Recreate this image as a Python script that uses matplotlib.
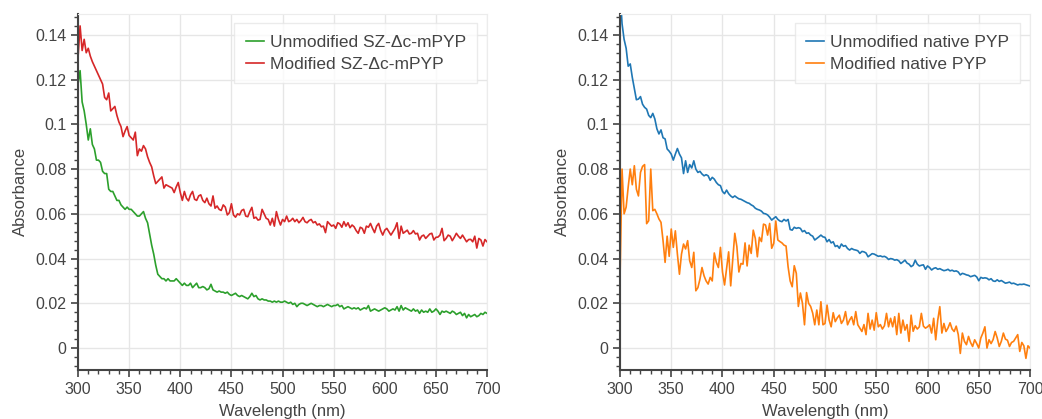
import numpy as np
import matplotlib.pyplot as plt
from matplotlib.ticker import MultipleLocator, FuncFormatter

# Absorbance spectra, sampled every 2 nm from 300 to 700 nm
wavelength = np.arange(300, 702, 2)

unmod_sz = [
    0.118, 0.124, 0.110, 0.106, 0.100, 0.093, 0.098, 0.091, 0.089, 0.084,
    0.084, 0.083, 0.079, 0.078, 0.078, 0.071, 0.070, 0.070, 0.068, 0.066,
    0.066, 0.064, 0.063, 0.062, 0.063, 0.062, 0.062, 0.061, 0.060, 0.059,
    0.059, 0.060, 0.061, 0.058, 0.056, 0.051, 0.046, 0.042, 0.037, 0.033,
    0.032, 0.031, 0.031, 0.030, 0.031, 0.030, 0.030, 0.030, 0.031, 0.030,
    0.029, 0.028, 0.029, 0.028, 0.028, 0.029, 0.027, 0.028, 0.029, 0.027,
    0.027, 0.0275, 0.027, 0.026, 0.0265, 0.0285, 0.026, 0.0255, 0.025, 0.0255,
    0.025, 0.025, 0.0245, 0.025, 0.024, 0.0235, 0.024, 0.0245, 0.0235, 0.023,
    0.0235, 0.023, 0.0225, 0.022, 0.023, 0.0245, 0.023, 0.0235, 0.022, 0.0215,
    0.022, 0.0215, 0.0215, 0.021, 0.021, 0.0205, 0.021, 0.0205, 0.021, 0.0205,
    0.0205, 0.021, 0.0205, 0.020, 0.0205, 0.0195, 0.020, 0.0185, 0.0195, 0.020,
    0.020, 0.0195, 0.019, 0.0195, 0.020, 0.0195, 0.019, 0.0185, 0.019, 0.019,
    0.0185, 0.019, 0.0195, 0.019, 0.0185, 0.019, 0.019, 0.0195, 0.0185, 0.019,
    0.0175, 0.018, 0.0185, 0.018, 0.0175, 0.018, 0.0175, 0.018, 0.017, 0.0175,
    0.018, 0.0175, 0.019, 0.0165, 0.017, 0.0175, 0.017, 0.0165, 0.017, 0.0175,
    0.018, 0.0175, 0.0165, 0.017, 0.0175, 0.017, 0.0185, 0.0165, 0.019, 0.017,
    0.018, 0.0175, 0.017, 0.0165, 0.0175, 0.0165, 0.017, 0.0155, 0.017, 0.016,
    0.0165, 0.016, 0.0175, 0.016, 0.0165, 0.0175, 0.0165, 0.015, 0.0165, 0.016,
    0.0165, 0.016, 0.0155, 0.0165, 0.016, 0.015, 0.0155, 0.016, 0.0145, 0.0155,
    0.0135, 0.015, 0.014, 0.0145, 0.015, 0.014, 0.0145, 0.0155, 0.015, 0.016,
    0.0155,
]

mod_sz = [
    0.130, 0.144, 0.133, 0.138, 0.132, 0.134, 0.1305, 0.128, 0.126, 0.124,
    0.122, 0.120, 0.118, 0.112, 0.111, 0.114, 0.106, 0.107, 0.108, 0.104,
    0.101, 0.099, 0.0945, 0.097, 0.099, 0.095, 0.094, 0.093, 0.0965, 0.086,
    0.089, 0.088, 0.0905, 0.089, 0.0855, 0.083, 0.081, 0.077, 0.0735, 0.0745,
    0.0755, 0.0765, 0.0715, 0.073, 0.0725, 0.072, 0.0715, 0.0695, 0.072, 0.074,
    0.0695, 0.066, 0.070, 0.067, 0.0658, 0.0685, 0.070, 0.0665, 0.066, 0.068,
    0.0685, 0.066, 0.065, 0.067, 0.0645, 0.0635, 0.068, 0.0625, 0.0635, 0.062,
    0.0615, 0.064, 0.063, 0.0595, 0.0605, 0.0645, 0.0595, 0.0585, 0.060, 0.0595,
    0.0615, 0.062, 0.059, 0.0587, 0.061, 0.0629, 0.058, 0.0585, 0.0572, 0.0575,
    0.062, 0.060, 0.058, 0.0575, 0.055, 0.058, 0.0545, 0.061, 0.0575, 0.055,
    0.0575, 0.0565, 0.059, 0.0565, 0.057, 0.058, 0.0565, 0.0575, 0.056, 0.057,
    0.0584, 0.0565, 0.056, 0.057, 0.0575, 0.056, 0.0565, 0.055, 0.0555, 0.0542,
    0.0545, 0.0516, 0.0565, 0.0555, 0.0545, 0.055, 0.0535, 0.056, 0.0555, 0.054,
    0.0565, 0.0545, 0.056, 0.0538, 0.055, 0.0542, 0.0525, 0.0513, 0.054, 0.0535,
    0.0513, 0.0545, 0.054, 0.0557, 0.0535, 0.0516, 0.0545, 0.0557, 0.0525, 0.0505,
    0.0527, 0.0535, 0.052, 0.0505, 0.052, 0.0535, 0.056, 0.049, 0.0545, 0.0513,
    0.052, 0.0527, 0.051, 0.0513, 0.0525, 0.051, 0.0513, 0.0483, 0.050, 0.0505,
    0.049, 0.050, 0.051, 0.0513, 0.0483, 0.0495, 0.0496, 0.0505, 0.0535, 0.048,
    0.049, 0.0505, 0.050, 0.048, 0.0495, 0.0513, 0.050, 0.049, 0.0505, 0.049,
    0.0475, 0.0485, 0.0486, 0.0475, 0.050, 0.0447, 0.049, 0.0483, 0.0456, 0.0485,
    0.0475,
]

unmod_native = [
    0.160, 0.145, 0.138, 0.134, 0.126, 0.127, 0.121, 0.116, 0.111, 0.1113,
    0.1124, 0.109, 0.1076, 0.1068, 0.104, 0.103, 0.1049, 0.1024, 0.098, 0.0957,
    0.0975, 0.094, 0.0935, 0.089, 0.088, 0.0867, 0.084, 0.0867, 0.0892, 0.0867,
    0.085, 0.078, 0.0837, 0.0785, 0.082, 0.0805, 0.0837, 0.080, 0.0785, 0.079,
    0.0778, 0.077, 0.0775, 0.077, 0.075, 0.0763, 0.0755, 0.074, 0.073, 0.0726,
    0.070, 0.069, 0.0706, 0.069, 0.068, 0.0673, 0.068, 0.0673, 0.0667, 0.0665,
    0.066, 0.0655, 0.065, 0.0647, 0.064, 0.0635, 0.0625, 0.062, 0.0617, 0.0612,
    0.0602, 0.060, 0.0595, 0.0585, 0.0572, 0.058, 0.0587, 0.0575, 0.0568, 0.0565,
    0.0575, 0.0568, 0.0575, 0.053, 0.0527, 0.054, 0.0535, 0.0538, 0.0535, 0.052,
    0.0525, 0.0513, 0.0515, 0.0505, 0.050, 0.0483, 0.049, 0.0497, 0.0505, 0.0497,
    0.0495, 0.0475, 0.0485, 0.047, 0.0475, 0.0454, 0.0458, 0.0446, 0.0465, 0.0455,
    0.0458, 0.0445, 0.0438, 0.0445, 0.044, 0.0438, 0.0435, 0.0423, 0.0432, 0.043,
    0.0425, 0.0408, 0.0415, 0.0422, 0.042, 0.0415, 0.041, 0.0412, 0.0408, 0.041,
    0.0405, 0.0396, 0.040, 0.0398, 0.0393, 0.0395, 0.039, 0.0378, 0.0385, 0.0393,
    0.038, 0.0375, 0.0364, 0.037, 0.0393, 0.0375, 0.0367, 0.037, 0.0372, 0.0352,
    0.0367, 0.036, 0.0349, 0.0356, 0.0359, 0.0352, 0.0355, 0.035, 0.0346, 0.0348,
    0.0352, 0.0345, 0.0348, 0.0343, 0.0345, 0.034, 0.0327, 0.0334, 0.0331, 0.0327,
    0.0325, 0.0319, 0.0322, 0.0325, 0.0318, 0.0301, 0.0316, 0.0312, 0.0314, 0.0312,
    0.0305, 0.031, 0.030, 0.0298, 0.0305, 0.0298, 0.0302, 0.0296, 0.029, 0.0292,
    0.0295, 0.0288, 0.029, 0.0286, 0.0282, 0.0285, 0.0284, 0.0286, 0.0283, 0.028,
    0.0277,
]

mod_native = [
    0.030, 0.080, 0.060, 0.063, 0.072, 0.080, 0.073, 0.0815, 0.071, 0.068,
    0.0785, 0.0812, 0.082, 0.0556, 0.0569, 0.080, 0.0614, 0.062, 0.060, 0.0577,
    0.0562, 0.048, 0.0383, 0.050, 0.041, 0.0532, 0.045, 0.0524, 0.042, 0.033,
    0.042, 0.0465, 0.0443, 0.048, 0.039, 0.036, 0.0428, 0.0256, 0.027, 0.0308,
    0.036, 0.0323, 0.030, 0.0286, 0.0316, 0.030, 0.0425, 0.0383, 0.036, 0.045,
    0.034, 0.0282, 0.0356, 0.043, 0.0278, 0.0393, 0.0513, 0.0454, 0.034, 0.0378,
    0.0375, 0.047, 0.0367, 0.046, 0.0423, 0.0527, 0.049, 0.0408, 0.0495, 0.0476,
    0.0554, 0.055, 0.0505, 0.0557, 0.0446, 0.0468, 0.0568, 0.0483, 0.0476, 0.047,
    0.046, 0.0456, 0.0363, 0.030, 0.0274, 0.0368, 0.0334, 0.0186, 0.0246, 0.020,
    0.0104, 0.0248, 0.020, 0.0186, 0.0156, 0.0104, 0.017, 0.0104, 0.0207, 0.0104,
    0.011, 0.0192, 0.0125, 0.0095, 0.0158, 0.0118, 0.0135, 0.0147, 0.011, 0.0125,
    0.0163, 0.0104, 0.0125, 0.014, 0.0104, 0.0163, 0.0104, 0.0089, 0.0074, 0.0105,
    0.006, 0.0155, 0.0085, 0.0125, 0.008, 0.0158, 0.0095, 0.0105, 0.0085, 0.010,
    0.0155, 0.0095, 0.0133, 0.0095, 0.014, 0.006, 0.0155, 0.0067, 0.0125, 0.008,
    0.0105, 0.003, 0.0147, 0.0075, 0.010, 0.0085, 0.0095, 0.0155, 0.0098, 0.0089,
    0.0095, 0.0104, 0.0067, 0.0133, 0.0037, 0.0125, 0.0185, 0.0067, 0.011, 0.0074,
    0.009, 0.0113, 0.0085, 0.0074, 0.0098, 0.006, -0.0024, 0.0067, 0.003, 0.0015,
    0.0052, 0.0025, 0.0007, 0.0037, 0.002, 0.0, 0.0045, 0.0067, 0.0095, 0.0,
    0.0037, 0.002, 0.0038, 0.0074, 0.0045, 0.0007, 0.003, 0.0067, 0.004, 0.0035,
    0.0007, 0.0025, 0.003, 0.0045, 0.006, -0.0015, 0.0025, 0.001, -0.0046, 0.001,
    0.0,
]

plt.rcParams['font.family'] = ['Liberation Sans', 'DejaVu Sans']
text_col = '#444444'

fig = plt.figure(figsize=(10.42, 4.19), dpi=100)
ax1 = fig.add_axes([0.0749, 0.117, 0.3925, 0.85])
ax2 = fig.add_axes([0.595, 0.117, 0.3935, 0.85])

panels = [
    (ax1, [(unmod_sz, '#2ca02c', 'Unmodified SZ-\u0394c-mPYP'),
           (mod_sz, '#d62728', 'Modified SZ-\u0394c-mPYP')]),
    (ax2, [(unmod_native, '#1f77b4', 'Unmodified native PYP'),
           (mod_native, '#ff7f0e', 'Modified native PYP')]),
]

for ax, series in panels:
    for vals, col, lab in series:
        ax.plot(wavelength, vals, color=col, lw=1.2, label=lab)
    ax.set_xlim(300, 700)
    ax.set_ylim(-0.0098, 0.1494)
    ax.xaxis.set_major_locator(MultipleLocator(50))
    ax.xaxis.set_minor_locator(MultipleLocator(10))
    ax.yaxis.set_major_locator(MultipleLocator(0.02))
    ax.yaxis.set_minor_locator(MultipleLocator(0.004))
    ax.yaxis.set_major_formatter(FuncFormatter(lambda v, p: '{:g}'.format(round(v, 3))))
    ax.grid(True, which='major', color='#e6e6e6', lw=1)
    ax.set_axisbelow(True)
    for s in ['top', 'right']:
        ax.spines[s].set_color('#ececec')
    for s in ['left', 'bottom']:
        ax.spines[s].set_color(text_col)
        ax.spines[s].set_linewidth(1.5)
    ax.tick_params(which='major', direction='out', length=5, width=1.2,
                   color=text_col, labelcolor=text_col, labelsize=11.5)
    ax.tick_params(which='minor', direction='out', length=3, width=1,
                   color=text_col)
    ax.set_xlabel('Wavelength (nm)', fontsize=12, color=text_col, labelpad=5)
    ax.set_ylabel('Absorbance', fontsize=12, color=text_col, labelpad=5)
    leg = ax.legend(loc='upper right', fontsize=12.5, frameon=True, fancybox=False,
                    borderaxespad=0.55, handlelength=1.05, handletextpad=0.35,
                    borderpad=0.65, labelspacing=0.4)
    leg.get_frame().set_edgecolor('#e6e6e6')
    leg.get_frame().set_linewidth(1)
    for t in leg.get_texts():
        t.set_color(text_col)

fig.savefig('out.png', dpi=100)
